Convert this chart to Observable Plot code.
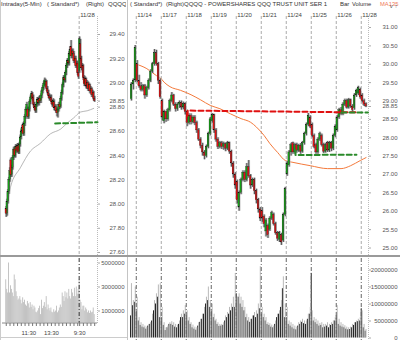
<!DOCTYPE html>
<html><head><meta charset="utf-8">
<script src="https://cdn.jsdelivr.net/npm/d3@7"></script>
<script src="https://cdn.jsdelivr.net/npm/@observablehq/plot@0.6"></script>
<style>
html,body{margin:0;padding:0;background:#fff;}
#root{position:relative;width:400px;height:340px;overflow:hidden;background:#fff;font-family:"Liberation Sans",Arial,sans-serif;}
#root svg{position:absolute;left:0;top:0;}
.hd{position:absolute;top:0;font-size:6px;color:#333;white-space:nowrap;line-height:8px;}
.sep{position:absolute;}
</style></head><body><div id="root">
<div class="sep" style="left:0;top:0;width:1px;height:340px;background:#ccc"></div>
<div class="sep" style="left:127px;top:0;width:1px;height:340px;background:#c4c4c4"></div>
<div class="sep" style="left:0;top:255px;width:400px;height:2px;background:#9a9a9a"></div>
<div class="sep" style="left:0;top:337px;width:127px;height:1px;background:#ccc"></div>
<div style="position:absolute;left:0;top:0;width:126px;height:9px;overflow:hidden">
<span class="hd" style="left:1px">Intraday(5-Min)</span>
<span class="hd" style="left:47px">( Standard*)</span>
<span class="hd" style="left:86px">(Right)</span>
<span class="hd" style="left:108px">QQQQ</span>
</div>
<span class="hd" style="left:130px">( Standard*)</span>
<span class="hd" style="left:166px">(Right)</span>
<span class="hd" style="left:184px">QQQQ - POWERSHARES QQQ TRUST UNIT SER 1</span>
<span class="hd" style="left:340px">Bar</span>
<span class="hd" style="left:352px;font-size:5.8px">Volume</span>
<span class="hd" style="left:380px;font-size:5.8px;color:#f07a5a">MA135</span>
</div>
<script>
// ---------- LEFT: intraday 5-min (11/26 full day + 11/28 morning) ----------
const lOpen = [27.96,27.92,28.02,28.10,28.20,28.36,28.24,28.30,28.38,28.45,28.40,28.47,28.44,28.48,28.43,28.49,28.55,28.60,28.65,28.58,28.66,28.72,28.78,28.78,28.72,28.78,28.84,28.88,28.91,28.88,28.82,28.80,28.77,28.82,28.86,28.83,28.87,28.85,28.89,28.93,28.96,28.99,28.98,29.01,28.95,28.92,28.89,28.87,28.88,28.84,28.82,28.84,28.79,28.80,28.77,28.75,28.78,28.82,28.80,28.87,28.92,28.98,29.04,29.02,29.08,29.14,29.18,29.16,29.24,29.30,29.22,29.26,29.24,29.18,29.20,29.14,29.16,29.08,29.10,29.32,29.20,29.12,29.14,29.04,28.99,29.03,28.97,29.00,28.95,28.98,28.93,28.95,28.90,28.92,28.87];
const lClose = [27.92,28.02,28.10,28.20,28.27,28.24,28.30,28.38,28.45,28.40,28.47,28.44,28.48,28.43,28.49,28.55,28.60,28.63,28.58,28.66,28.72,28.78,28.82,28.72,28.78,28.84,28.88,28.91,28.87,28.82,28.79,28.77,28.82,28.86,28.83,28.87,28.85,28.89,28.93,28.96,28.99,29.02,29.01,28.95,28.92,28.89,28.87,28.88,28.84,28.82,28.85,28.79,28.80,28.77,28.75,28.78,28.82,28.80,28.87,28.92,28.98,29.04,29.02,29.08,29.14,29.18,29.16,29.24,29.27,29.22,29.26,29.24,29.18,29.20,29.14,29.16,29.08,29.05,29.36,29.20,29.12,29.14,29.04,28.99,29.03,28.97,29.00,28.95,28.98,28.93,28.95,28.90,28.92,28.87,28.85];
const lHigh = [27.98,28.04,28.12,28.22,28.30,28.38,28.32,28.40,28.47,28.47,28.49,28.49,28.50,28.50,28.51,28.57,28.62,28.65,28.67,28.68,28.74,28.80,28.84,28.80,28.80,28.86,28.90,28.93,28.92,28.90,28.84,28.82,28.84,28.88,28.88,28.89,28.89,28.91,28.95,28.98,29.01,29.04,29.03,29.02,28.97,28.94,28.91,28.90,28.90,28.86,28.87,28.86,28.82,28.82,28.79,28.80,28.84,28.84,28.89,28.94,29.00,29.06,29.06,29.10,29.16,29.20,29.20,29.26,29.30,29.35,29.28,29.28,29.26,29.22,29.22,29.18,29.18,29.10,29.38,29.36,29.22,29.16,29.15,29.06,29.05,29.04,29.02,29.01,29.00,28.99,28.97,28.96,28.94,28.93,28.89];
const lLow = [27.89,27.90,28.00,28.08,28.18,28.22,28.22,28.28,28.36,28.38,28.38,28.42,28.42,28.41,28.41,28.47,28.53,28.58,28.56,28.56,28.64,28.70,28.76,28.70,28.70,28.76,28.82,28.86,28.85,28.80,28.77,28.75,28.75,28.80,28.81,28.81,28.83,28.83,28.87,28.91,28.94,28.97,28.96,28.93,28.90,28.87,28.85,28.85,28.82,28.80,28.80,28.77,28.77,28.75,28.72,28.71,28.76,28.78,28.79,28.85,28.90,28.96,29.00,29.00,29.06,29.12,29.14,29.14,29.22,29.20,29.20,29.22,29.16,29.16,29.12,29.12,29.06,29.03,29.08,29.18,29.10,29.08,29.02,28.97,28.97,28.95,28.95,28.93,28.93,28.91,28.91,28.88,28.88,28.85,28.84];
const lVolM = [3.6,2.8,2.5,5.0,2.5,3.1,2.8,2.5,2.2,4.0,3.6,2.6,2.2,1.9,2.0,2.2,1.9,1.6,2.1,1.7,1.9,1.5,1.4,1.8,1.6,1.25,1.7,1.3,1.5,1.1,1.4,1.25,0.9,0.85,1.0,1.2,1.4,0.7,1.9,1.2,1.4,1.7,1.3,2.2,1.1,1.5,1.2,1.0,1.25,0.9,0.85,1.1,0.9,1.0,1.4,0.85,1.0,1.25,1.5,1.3,2.5,2.2,1.8,2.6,2.1,2.5,2.0,2.8,2.2,2.0,2.8,2.5,2.2,2.9,2.2,3.0,2.4,2.8,3.6,1.9,1.7,1.1,1.4,1.4,1.0,1.25,1.1,0.85,1.0,0.8,1.0,0.85,0.9,1.25,0.7];
const lMaIdx = [2,4.5,15,26,36,47,58,65,71.5,79,86,93];
const lMaVal = [28.03,28.14,28.30,28.44,28.50,28.58,28.62,28.67,28.71,28.76,28.77,28.79];
const lDayLineIdx = [77.5];
const lDayLabel = ["11/28"];
const lSupportIdx = [52, 97];
const lSupportVal = [28.665, 28.675];
const lPriceTicks = [27.6,27.8,28.0,28.2,28.4,28.6,28.8,28.85,29.0,29.2,29.4];
const lVolTicks = [1,3,5];
const lTimeIdx = [24,48,78];
const lTimeText = ["11:30","13:30","9:30"];
const lMinorTicks = [0,4,8,12,16,20,24,28,32,36,40,44,48,52,56,60,64,68,72,76,78,82,86,90,94];
const lXDomain = [-4, 97];

// ---------- RIGHT: multi-day (30-min bars) ----------
const rOpen = [29.05,29.45,29.56,30.00,29.55,29.40,29.30,29.40,29.15,29.35,29.55,29.80,30.00,30.30,30.00,29.55,29.00,28.45,28.70,28.50,28.75,29.00,29.15,28.90,28.78,28.90,28.95,28.82,28.92,28.70,28.40,28.60,28.42,28.55,28.40,28.20,27.95,27.78,27.60,27.50,27.75,28.10,28.45,28.62,28.20,27.95,27.75,27.85,27.75,27.82,27.70,27.85,27.62,27.30,27.00,26.80,26.10,26.50,26.85,27.05,26.85,27.20,26.95,26.70,26.85,26.55,26.30,26.05,26.00,25.85,25.45,25.60,25.50,25.80,25.90,25.65,25.40,25.22,25.35,25.20,25.90,27.00,27.25,27.60,27.85,27.60,27.80,27.65,27.78,27.62,27.85,28.10,28.35,28.55,28.35,28.05,27.80,27.60,27.95,28.05,27.80,27.62,27.85,27.65,27.85,27.70,28.05,28.20,28.55,28.75,28.65,28.90,29.00,28.82,29.02,28.85,28.80,29.15,29.20,29.30,29.15,29.00,28.92];
const rClose = [29.45,29.55,30.45,29.55,29.40,29.30,29.40,29.15,29.35,29.55,29.80,30.00,30.30,30.00,29.55,29.10,28.55,28.70,28.50,28.75,29.00,29.15,28.90,28.78,28.90,28.95,28.82,28.92,28.70,28.40,28.60,28.42,28.55,28.40,28.20,27.95,27.78,27.60,27.50,27.75,28.10,28.50,28.62,28.20,27.95,27.75,27.85,27.75,27.82,27.70,27.85,27.62,27.30,27.00,26.70,26.30,26.50,26.85,27.05,26.85,27.20,26.95,26.70,26.85,26.55,26.30,26.05,25.80,25.80,25.65,25.75,25.35,25.80,25.95,25.65,25.40,25.25,25.40,25.15,25.90,26.60,27.30,27.60,27.80,27.60,27.80,27.65,27.78,27.62,27.85,28.10,28.35,28.60,28.30,28.05,27.75,27.60,27.95,28.10,27.80,27.62,27.80,27.65,27.85,27.70,28.05,28.30,28.55,28.75,28.65,28.90,29.00,28.82,29.02,28.85,28.75,29.15,29.28,29.35,29.10,29.00,28.90,28.85];
const rHigh = [29.50,29.60,30.51,30.10,29.70,29.50,29.45,29.45,29.40,29.60,29.85,30.05,30.40,30.38,30.05,29.60,29.05,28.75,28.72,28.80,29.05,29.23,29.18,28.95,28.95,29.00,29.00,28.97,28.95,28.75,28.65,28.65,28.60,28.60,28.45,28.25,28.00,27.85,27.65,27.80,28.15,28.55,28.66,28.64,28.25,28.00,27.90,27.90,27.88,27.86,27.90,27.88,27.66,27.35,27.05,26.85,26.55,26.90,27.10,27.10,27.30,27.38,27.00,26.90,26.90,26.60,26.35,26.10,26.10,25.90,25.80,25.65,25.85,26.00,25.95,25.70,25.45,25.45,25.40,25.95,26.65,27.35,27.65,27.85,27.88,27.85,27.85,27.82,27.84,27.90,28.15,28.40,28.66,28.60,28.40,28.10,27.85,28.00,28.15,28.10,27.85,27.85,27.90,27.90,27.90,28.10,28.35,28.60,28.80,28.82,28.95,29.05,29.05,29.07,29.05,28.90,29.20,29.32,29.40,29.35,29.20,29.05,28.95];
const rLow = [29.00,29.30,29.50,29.50,29.35,29.25,29.25,29.05,29.10,29.30,29.50,29.75,29.95,29.95,29.45,29.05,28.45,28.38,28.42,28.45,28.70,28.95,28.85,28.70,28.72,28.80,28.75,28.76,28.62,28.30,28.35,28.35,28.38,28.33,28.12,27.90,27.70,27.50,27.40,27.45,27.70,28.05,28.40,28.12,27.88,27.68,27.70,27.68,27.66,27.62,27.65,27.55,27.20,26.90,26.60,26.20,26.00,26.45,26.80,26.78,26.80,26.90,26.60,26.65,26.45,26.20,25.95,25.72,25.70,25.55,25.30,25.26,25.45,25.75,25.60,25.35,25.18,25.15,25.07,25.15,25.85,26.95,27.20,27.50,27.55,27.55,27.58,27.60,27.55,27.58,27.80,28.05,28.30,28.25,28.00,27.70,27.55,27.55,27.90,27.75,27.57,27.58,27.60,27.60,27.62,27.65,28.00,28.15,28.50,28.60,28.60,28.85,28.78,28.78,28.80,28.70,28.75,29.10,29.15,29.05,28.95,28.85,28.82];
const rVolBlackM = [6.5,9.5,10.5, 8,5,3.7,3.2,3,2.6,3.5,4,5,8,10,12,6, 6,3.7,2.2,3,4,4,3.7,3.2,3,4,6,6,7, 6.5,5,4,3,2.6,2.3,3.5,4.6,5.5,7,10,11,9, 8,6,5,4,3.4,3.5,3.7,5,6,7,8,9,9, 13,12,10,9,8,6,5,4.6,5.5,6.5,6,7,8.6, 7,6,5,4,3.7,3.2,3,4,6,7,9,14.5,6, 6,4,3.5,3,2.6,2.4,3.5,4,4.6,4.2,4,5.5,7, 19,5,4.5,4,3.5,3.7,3,3.2,3.5,3,3.7,4,5, 6.5,4,3.5,3.2,3,2.6,2.4,2.5,3,3.7,4.5,4.8,5, 8.6,3,2];
const rVolGrayM = [16,11,15, 12,6,4.5,4,3.5,3.2,4,4.5,7,11,13,15.6,16, 9,4.5,3,3.5,4.5,4.8,4.5,4,3.8,5,7,8,9.5, 8,6,4.5,3.8,3.2,3,4.5,5.5,7,9,12,15,11, 10,7,5.5,4.5,4,4,4.5,6.5,7.5,9,10,12,19, 12,13,12,11,9,7,6,5.5,6.5,7.5,8,10,21, 9,7,6,4.5,4.2,3.8,3.5,5,7,8,11,18,10, 9,5,4.5,4,3.5,3.2,4.5,5,5.5,5,5,7,9, 8,6,5.5,5,4.3,4.5,4,4,4.5,4,4.5,5,6, 9.5,5.5,4.5,4,3.6,3.2,3,3.2,4,4.5,5,5.5,6, 8,4,2.5];
const rMaIdx = [2,8,13,15,17,20,25.5,31,36,41,46,51.5,57,62,65,69,72,76,80,84,93,102,109,114,119,122];
const rMaVal = [30.01,29.88,29.69,29.63,29.51,29.39,29.29,29.17,29.03,28.88,28.79,28.65,28.52,28.42,28.29,28.06,27.84,27.60,27.38,27.33,27.24,27.16,27.16,27.24,27.38,27.46];
const rDayLabels = ["11/14","11/17","11/18","11/19","11/20","11/21","11/24","11/25","11/26","11/28"];
const rDayStart = [3,16,29,42,55,68,81,94,107,120];
const rResistIdx = [29.2, 29.2, 117.5];
const rResistVal = [28.60, 28.74, 28.69];
const rSupportLowIdx = [85.3, 85.3, 117];
const rSupportLowVal = [27.66, 27.53, 27.54];
const rSupportHighIdx = [109.2, 123];
const rSupportHighVal = [28.69, 28.69];
const rPriceTicks = [25,25.5,26,26.5,27,27.5,28,28.5,28.85,29,29.5,30,30.5,31];
const rVolTicks = [0,5,10,15,20];
const rXDomain = [-0.5, 123.27];

// ---------- build ----------
const lRows = lOpen.map((o, i) => ({k: i, o, c: lClose[i], h: lHigh[i], l: lLow[i]}));
const rRows = rOpen.map((o, i) => ({k: i, o, c: rClose[i], h: rHigh[i], l: rLow[i]}));
const lVolRows = lVolM.map((v, i) => ({k: i, v}));
const rVolRows = rVolBlackM.map((b, i) => ({k: i, b, g: rVolGrayM[i]}));
const lMa = lMaIdx.map((k, i) => ({k, v: lMaVal[i]}));
const rMa = rMaIdx.map((k, i) => ({k, v: rMaVal[i]}));
const pts = (a, b) => a.map((k, i) => ({k, v: b[i]}));

const UP = "#16a016", DOWN = "#e21212";
function candles(rows, w) {
  return [
    Plot.ruleX(rows, {x: "k", y1: "l", y2: "h", stroke: "#bcbcbc", strokeWidth: 2.6}),
    Plot.ruleX(rows, {x: "k", y1: "l", y2: "h", stroke: "#111", strokeWidth: 0.6}),
    Plot.rect(rows.filter(d => d.c >= d.o), {x1: d => d.k - w, x2: d => d.k + w, y1: "o", y2: "c", fill: UP, stroke: "#111", strokeWidth: 0.25}),
    Plot.rect(rows.filter(d => d.c < d.o), {x1: d => d.k - w, x2: d => d.k + w, y1: "o", y2: "c", fill: DOWN, stroke: "#111", strokeWidth: 0.25})
  ];
}
const base = {width: 400, height: 340,
  style: {background: "transparent", fontFamily: "Liberation Sans, Arial, sans-serif", fontSize: "6px", color: "#444", overflow: "visible"}};
const fmt2 = d3.format(".2f");
const root = document.getElementById("root");

// left price
root.appendChild(Plot.plot({...base, marginLeft: 2, marginRight: 303, marginTop: 16, marginBottom: 84,
  x: {domain: lXDomain, axis: null},
  y: {domain: [27.6, 29.4], range: [252, 34], axis: null},
  marks: [
    Plot.ruleX(lDayLineIdx, {stroke: "#aaa", strokeDasharray: "3,2"}),
    Plot.ruleX([lXDomain[1]], {stroke: "#bbb", strokeDasharray: "1,1"}),
    Plot.axisY({anchor: "right", ticks: lPriceTicks, tickFormat: fmt2, tickSize: 2, tickPadding: 25, textAnchor: "end", stroke: "#aaa", fill: "#555"}),
    Plot.text(lDayLabel, {x: lDayLineIdx, text: d => d, frameAnchor: "top", dy: -4, dx: 1, textAnchor: "start", fill: "#444"}),
    Plot.line(lMa, {x: "k", y: "v", stroke: "#999", strokeWidth: 0.7, curve: "monotone-x"}),
    ...candles(lRows, 0.8),
    Plot.line(pts(lSupportIdx, lSupportVal), {x: "k", y: "v", stroke: "#2a8a2a", strokeWidth: 2, strokeDasharray: "5,3"})
  ]}));

// left volume
root.appendChild(Plot.plot({...base, marginLeft: 2, marginRight: 303, marginTop: 258, marginBottom: 17,
  x: {domain: lXDomain, axis: null},
  y: {domain: [0, 5], range: [322.5, 262.5], axis: null},
  marks: [
    Plot.rect(lVolRows, {x1: d => d.k - 0.5, x2: d => d.k + 0.45, y1: 0, y2: "v", fill: "#bdbdbd"}),
    Plot.ruleX(lDayLineIdx, {stroke: "#333", strokeDasharray: "4,2,1,2"}),
    Plot.ruleX([lXDomain[1]], {stroke: "#bbb", strokeDasharray: "1,1"}),
    Plot.ruleY([0], {stroke: "#888"}),
    Plot.axisX({anchor: "bottom", ticks: lMinorTicks, tickSize: 3, tickFormat: () => "", stroke: "#777"}),
    Plot.text(lTimeText, {x: lTimeIdx, text: d => d, frameAnchor: "bottom", dy: 11, fill: "#444"}),
    Plot.axisY({anchor: "right", ticks: lVolTicks, tickFormat: d => String(d * 1000000), tickSize: 2, tickPadding: 25, textAnchor: "end", stroke: "#aaa", fill: "#555"})
  ]}));

// right price
root.appendChild(Plot.plot({...base, marginLeft: 130, marginRight: 32, marginTop: 16, marginBottom: 84,
  x: {domain: rXDomain, axis: null},
  y: {domain: [25, 31], range: [247.5, 27], axis: null},
  marks: [
    Plot.ruleX(rDayStart, {x: d => d - 0.5, stroke: "#aaa", strokeDasharray: "3,2"}),
    Plot.ruleX([rXDomain[1]], {stroke: "#bbb", strokeDasharray: "1,1"}),
    Plot.axisY({anchor: "right", ticks: rPriceTicks, tickFormat: fmt2, tickSize: 2, tickPadding: 27, textAnchor: "end", stroke: "#aaa", fill: "#555"}),
    Plot.text(rDayLabels, {x: rDayStart.map(k => k - 0.5), text: d => d, frameAnchor: "top", dy: -4, dx: 1, textAnchor: "start", fill: "#444"}),
    Plot.line(rMa, {x: "k", y: "v", stroke: "#f47a3c", strokeWidth: 1, curve: "monotone-x"}),
    ...candles(rRows, 0.4),
    Plot.line(pts(rResistIdx, rResistVal), {x: "k", y: "v", stroke: "#e01010", strokeWidth: 2, strokeDasharray: "5,3"}),
    Plot.line(pts(rSupportLowIdx, rSupportLowVal), {x: "k", y: "v", stroke: "#2a8a2a", strokeWidth: 2, strokeDasharray: "5,3"}),
    Plot.line(pts(rSupportHighIdx, rSupportHighVal), {x: "k", y: "v", stroke: "#2a8a2a", strokeWidth: 2, strokeDasharray: "5,3"})
  ]}));

// right volume
root.appendChild(Plot.plot({...base, marginLeft: 130, marginRight: 32, marginTop: 258, marginBottom: 0,
  x: {domain: rXDomain, axis: null},
  y: {domain: [0, 20], range: [337.5, 269.5], axis: null},
  marks: [
    Plot.rect(rVolRows, {x1: d => d.k - 0.5, x2: d => d.k - 0.02, y1: 0, y2: "b", fill: "#111"}),
    Plot.rect(rVolRows, {x1: d => d.k, x2: d => d.k + 0.48, y1: 0, y2: "g", fill: "#b4b4b4"}),
    Plot.ruleX(rDayStart, {x: d => d - 0.5, stroke: "#666", strokeDasharray: "4,2,1,2"}),
    Plot.ruleX([rXDomain[1]], {stroke: "#bbb", strokeDasharray: "1,1"}),
    Plot.axisY({anchor: "right", ticks: rVolTicks, tickFormat: d => String(d * 1000000), tickSize: 2, tickPadding: 27, textAnchor: "end", stroke: "#aaa", fill: "#555"})
  ]}));
</script>
</body></html>
